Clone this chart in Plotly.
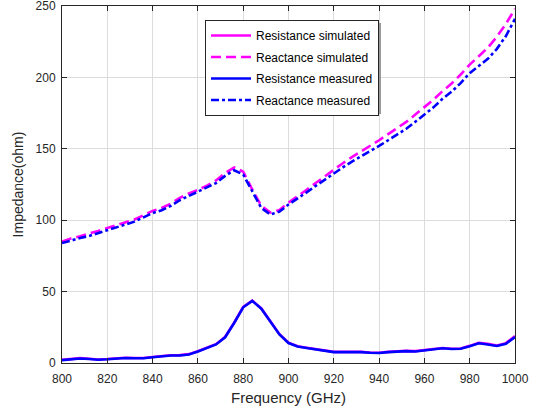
import plotly.graph_objects as go

freq = list(range(800, 1001, 4))

res_meas = [2.0, 2.5, 3.2, 2.8, 2.3, 2.6, 3.2, 3.5, 3.3, 3.3,
            4.0, 4.8, 5.2, 5.3, 6.0, 8.0, 10.5, 13.0, 18.0, 28.0,
            39.0, 43.5, 38.0, 29.0, 20.0, 14.0, 11.5, 10.5, 9.5, 8.5,
            7.6, 7.6, 7.8, 7.6, 7.2, 7.0, 7.6, 8.2, 8.3, 8.1,
            8.8, 9.8, 10.3, 9.8, 10.0, 11.8, 13.8, 13.0, 11.9, 13.5, 18.2]

res_sim = [2.2, 2.7, 3.4, 3.0, 2.5, 2.8, 3.4, 3.7, 3.5, 3.5,
           4.2, 5.0, 5.4, 5.5, 6.2, 8.2, 10.7, 13.2, 18.2, 28.2,
           39.2, 43.7, 38.2, 29.2, 20.2, 14.2, 11.7, 10.7, 9.7, 8.7,
           7.8, 7.8, 8.0, 7.8, 7.4, 7.2, 7.8, 8.4, 8.5, 8.3,
           9.0, 10.0, 10.5, 10.0, 10.2, 12.0, 14.2, 13.4, 12.2, 13.9, 18.8]

react_meas = [84.0, 86.0, 87.5, 89.0, 91.0, 93.0, 95.0, 97.0, 99.0, 102.0,
              105.0, 107.0, 110.0, 114.0, 117.0, 119.5, 122.5, 126.0, 131.0, 135.0,
              132.0, 120.0, 108.5, 104.0, 106.0, 111.0, 115.0, 119.5, 124.0, 128.5,
              133.0, 137.0, 141.0, 144.5, 148.0, 152.0, 156.0, 160.0, 164.0, 169.0,
              174.0, 179.0, 185.0, 190.0, 196.0, 203.0, 208.0, 213.0, 220.0, 229.0, 241.0]

react_sim = [85.0, 87.2, 88.8, 90.4, 92.5, 94.5, 96.5, 98.5, 100.5, 103.5,
             106.5, 108.6, 111.6, 115.6, 118.7, 121.2, 124.2, 127.8, 133.0, 137.0,
             134.0, 121.5, 110.0, 105.3, 107.2, 112.3, 116.6, 121.3, 126.0, 130.8,
             135.6, 139.9, 144.2, 148.0, 151.8, 156.0, 160.3, 164.6, 168.8, 174.0,
             179.2, 184.4, 190.4, 195.7, 202.0, 209.0, 214.8, 220.8, 228.5, 237.5, 248.0]

xticks = [800, 820, 840, 860, 880, 900, 920, 940, 960, 980, 1000]
yticks = [0, 50, 100, 150, 200, 250]

font_family = "Arial, Liberation Sans, Helvetica, sans-serif"
text_color = "#262626"

fig = go.Figure()
fig.add_trace(go.Scatter(x=freq, y=res_sim, mode="lines", name="Resistance simulated",
                         legendgroup="a", line=dict(color="#ff00ff", width=2.6)))
fig.add_trace(go.Scatter(x=freq, y=react_sim, mode="lines", name="Reactance simulated",
                         legendgroup="b", line=dict(color="#ff00ff", width=2.6, dash="10px,5px")))
fig.add_trace(go.Scatter(x=freq, y=res_meas, mode="lines", name="Resistance measured",
                         legendgroup="c", line=dict(color="#0000ff", width=2.6)))
fig.add_trace(go.Scatter(x=freq, y=react_meas, mode="lines", name="Reactance measured",
                         legendgroup="d", line=dict(color="#0000ff", width=2.6, dash="8px,3px,3px,3px")))

axis_common = dict(showline=True, linecolor=text_color, linewidth=1, mirror="ticks",
                   ticks="inside", ticklen=5, tickcolor=text_color,
                   showgrid=True, gridcolor="#dcdcdc", gridwidth=1, zeroline=False,
                   automargin=False, ticklabeloverflow="allow",
                   tickfont=dict(family=font_family, size=12, color=text_color))

fig.update_xaxes(range=[800, 1000], tickvals=xticks, ticklabelstandoff=5,
                 title=dict(text="Frequency (GHz)", font=dict(family=font_family, size=15, color=text_color), standoff=7),
                 **axis_common)
fig.update_yaxes(range=[0, 250], tickvals=yticks, ticklabelstandoff=3,
                 title=dict(text="Impedance(ohm)", font=dict(family=font_family, size=14, color=text_color), standoff=8),
                 **axis_common)

# legend drop shadow (MATLAB style)
plot_l, plot_w, plot_b, plot_h = 62, 453, 363, 357
def px_x(p):
    return (p - plot_l) / plot_w
def px_y(p):
    return (plot_b - p) / plot_h

fig.add_shape(type="rect", xref="paper", yref="paper",
              x0=px_x(208), x1=px_x(381), y0=px_y(114), y1=px_y(23),
              fillcolor="#9a9a9a", line=dict(width=0), layer="above")

fig.update_layout(
    width=539, height=414,
    margin=dict(l=62, r=24, t=6, b=51),
    paper_bgcolor="white", plot_bgcolor="white",
    font=dict(family=font_family, color=text_color),
    legend=dict(x=px_x(205), y=px_y(20), xanchor="left", yanchor="top",
                bgcolor="white", bordercolor=text_color, borderwidth=1,
                font=dict(family=font_family, size=12, color="#000000"),
                itemwidth=40, tracegroupgap=2.5),
)

fig.write_html("out.html", config={"displayModeBar": False},
               post_script="document.body.style.margin='0px';")
